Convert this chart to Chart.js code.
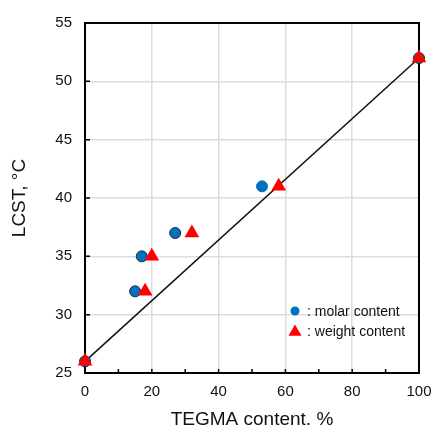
<!DOCTYPE html>
<html><head><meta charset="utf-8">
<script src="https://cdn.jsdelivr.net/npm/chart.js@4/dist/chart.umd.min.js"></script>
<style>html,body{margin:0;padding:0;background:#fff}#wrap{width:433px;height:434px}</style>
</head><body><div id="wrap"><canvas id="c" width="433" height="434"></canvas></div>
<script>
const molarX = [0, 15, 17, 27, 53, 100];
const molarY = [26, 32, 35, 37, 41, 52];
const weightX = [0, 18, 20, 32, 58, 100];
const weightY = [26, 32, 35, 37, 41, 52];
const fitX = [0, 100];
const fitY = [26, 52];
const xTickLabels = [0, 20, 40, 60, 80, 100];
const yTickLabels = [25, 30, 35, 40, 45, 50, 55];
const seriesLabels = [': molar content', ': weight content'];
const xTitle = 'TEGMA content. %';
const yTitle = 'LCST, °C';

const FONT = "'Liberation Sans', Arial, sans-serif";
const BLUE = '#0070C0';
const RED = '#FF0000';
const OUT = '#1c2b3a';

const zip = (xs, ys) => xs.map((x, i) => ({x, y: ys[i]}));

const framePlugin = {
  id: 'frame',
  beforeDatasetsDraw(chart) {
    const {ctx, chartArea: a, scales: {x, y}} = chart;
    ctx.save();
    ctx.strokeStyle = '#000';
    ctx.lineWidth = 1.5;
    ctx.beginPath();
    x.ticks.forEach(t => {
      const px = x.getPixelForValue(t.value);
      ctx.moveTo(px, a.bottom); ctx.lineTo(px, a.bottom - 4);
    });
    y.ticks.forEach(t => {
      const py = y.getPixelForValue(t.value);
      ctx.moveTo(a.left, py); ctx.lineTo(a.left + 5, py);
    });
    ctx.stroke();
    ctx.lineWidth = 2;
    ctx.strokeRect(a.left, a.top, a.right - a.left, a.bottom - a.top);
    ctx.restore();
  }
};

const legendPlugin = {
  id: 'innerLegend',
  afterDatasetsDraw(chart) {
    const {ctx, chartArea: a} = chart;
    const items = [
      {style: 'circle', color: BLUE, r: 4.5, text: seriesLabels[0]},
      {style: 'triangle', color: RED, r: 7.5, text: seriesLabels[1]}
    ];
    ctx.save();
    ctx.font = '14px ' + FONT;
    ctx.textBaseline = 'middle';
    ctx.textAlign = 'left';
    items.forEach((it, i) => {
      const cx = a.right - 124, cy = a.bottom - 62 + i * 20;
      ctx.fillStyle = it.color;
      ctx.strokeStyle = it.color;
      Chart.helpers.drawPoint(ctx, {pointStyle: it.style, radius: it.r, borderWidth: 0, rotation: 0}, cx, it.style === 'triangle' ? cy + 1 : cy);
      ctx.fillStyle = '#111';
      ctx.fillText(it.text, cx + 12, cy + 1);
    });
    ctx.restore();
  }
};

new Chart(document.getElementById('c'), {
  type: 'scatter',
  data: {
    datasets: [
      {
        label: seriesLabels[1],
        data: zip(weightX, weightY),
        pointStyle: 'triangle',
        pointRadius: 8.5,
        backgroundColor: RED,
        borderColor: RED,
        borderWidth: 0,
        order: 0,
        clip: false
      },
      {
        label: seriesLabels[0],
        data: zip(molarX, molarY),
        pointStyle: 'circle',
        pointRadius: 5.5,
        backgroundColor: BLUE,
        borderColor: molarX.map((v, i) => i === 4 ? BLUE : OUT),
        borderWidth: 1,
        order: 1,
        clip: false
      },
      {
        type: 'line',
        label: 'fit',
        data: zip(fitX, fitY),
        borderColor: '#111',
        borderWidth: 1.5,
        pointRadius: 0,
        fill: false,
        order: 2,
        clip: false
      }
    ]
  },
  options: {
    responsive: false,
    animation: false,
    events: [],
    layout: {padding: {top: 23, right: 0, left: 0, bottom: 0}},
    plugins: {legend: {display: false}, tooltip: {enabled: false}},
    scales: {
      x: {
        type: 'linear', min: 0, max: 100,
        afterFit(s) { s.height = 61; s.paddingRight = 14; s.paddingLeft = 0; },
        border: {display: false},
        grid: {
          drawTicks: false,
          lineWidth: 1.5,
          color: c => (c.tick && xTickLabels.includes(c.tick.value) && c.tick.value > 0 && c.tick.value < 100) ? '#dcdcdc' : 'transparent'
        },
        ticks: {
          stepSize: 10, autoSkip: false, maxRotation: 0, padding: 10,
          color: '#111', font: {family: FONT, size: 15},
          callback: v => xTickLabels.includes(v) ? String(v) : ''
        },
        title: {display: true, text: xTitle, color: '#111', font: {family: FONT, size: 19}, padding: {top: 0, bottom: 3}}
      },
      y: {
        type: 'linear', min: 25, max: 55,
        afterFit(s) { s.width = 85; s.paddingTop = 0; s.paddingBottom = 0; },
        border: {display: false},
        grid: {
          drawTicks: false,
          lineWidth: 1.5,
          color: c => (c.tick && c.tick.value > 25 && c.tick.value < 55) ? '#dcdcdc' : 'transparent'
        },
        ticks: {
          stepSize: 5, padding: 13,
          color: '#111', font: {family: FONT, size: 15},
          callback: v => yTickLabels.includes(v) ? String(v) : ''
        },
        title: {display: true, text: yTitle, color: '#111', font: {family: FONT, size: 19}, padding: {top: 8, bottom: 0}}
      }
    }
  },
  plugins: [framePlugin, legendPlugin]
});
</script>
</body></html>
